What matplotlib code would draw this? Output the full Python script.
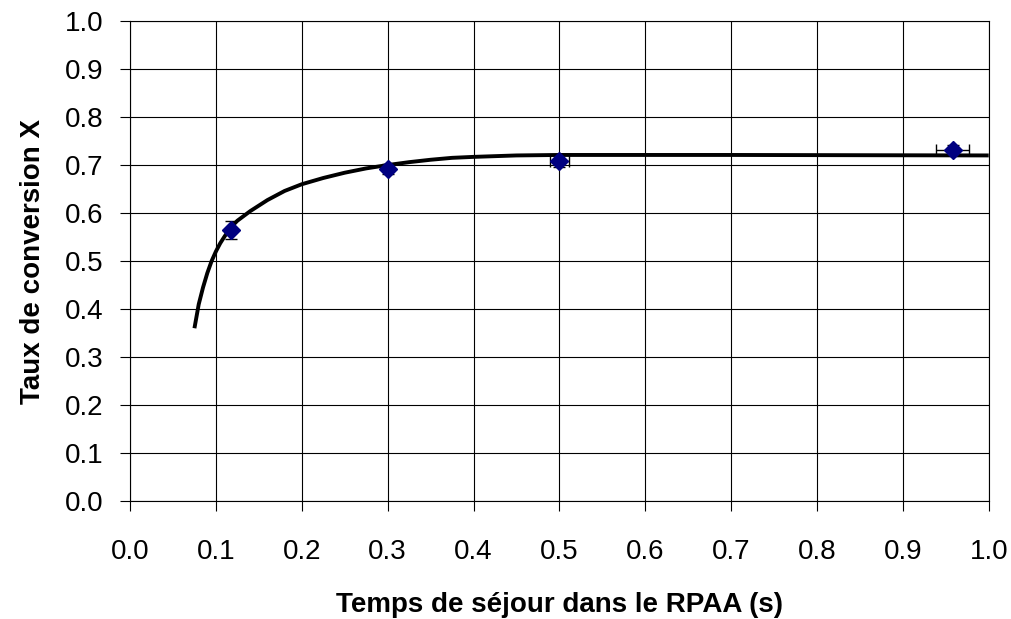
import matplotlib.pyplot as plt

plt.rcParams['font.family'] = ['Liberation Sans', 'DejaVu Sans']

# mesures
t_mes = [0.118, 0.300, 0.500, 0.958]
x_mes = [0.565, 0.692, 0.708, 0.731]
t_err = [0.0, 0.0, 0.011, 0.019]
x_err = [0.019, 0.010, 0.012, 0.010]

# modele (courbe lue)
t_mod = [0.075, 0.0775, 0.08, 0.085, 0.09, 0.095, 0.10, 0.105, 0.11, 0.115,
         0.12, 0.125, 0.14, 0.16, 0.18, 0.2, 0.225, 0.25, 0.275, 0.3,
         0.325, 0.35, 0.375, 0.4, 0.45, 0.5, 0.7, 1.0]
x_mod = [0.36, 0.385, 0.41, 0.445, 0.475, 0.50, 0.52, 0.537, 0.551, 0.564,
         0.575, 0.584, 0.604, 0.627, 0.646, 0.660, 0.673, 0.684, 0.693, 0.700,
         0.706, 0.711, 0.715, 0.717, 0.720, 0.721, 0.721, 0.720]

ticks = [i / 10 for i in range(11)]

fig = plt.figure(figsize=(10.12, 6.19), dpi=100)
ax = fig.add_axes([0.1285, 0.1906, 0.8485, 0.7754])

ax.plot(t_mod, x_mod, color='black', lw=2.8, zorder=3,
        solid_joinstyle='round', solid_capstyle='butt')
ax.errorbar(t_mes, x_mes, xerr=t_err, yerr=x_err, fmt='D', color='#000080',
            ms=9, ecolor='black', elinewidth=1, capsize=4, capthick=1, zorder=4)

ax.set_xlim(0, 1)
ax.set_ylim(0, 1)
ax.set_xticks(ticks)
ax.set_yticks(ticks)
ax.set_xticklabels([f'{v:.1f}' for v in ticks])
ax.set_yticklabels([f'{v:.1f}' for v in ticks])
ax.grid(True, color='black', lw=0.8)
ax.set_axisbelow(True)
for s in ax.spines.values():
    s.set_linewidth(0.8)
ax.tick_params(direction='out', length=7, width=0.8, labelsize=20)
ax.tick_params(axis='x', pad=20)
ax.tick_params(axis='y', pad=12)

ax.set_xlabel('Temps de séjour dans le RPAA (s)', fontsize=20, fontweight='bold', labelpad=20)
ax.set_ylabel('Taux de conversion X', fontsize=20, fontweight='bold', labelpad=14)

fig.savefig('out.png', dpi=100)
